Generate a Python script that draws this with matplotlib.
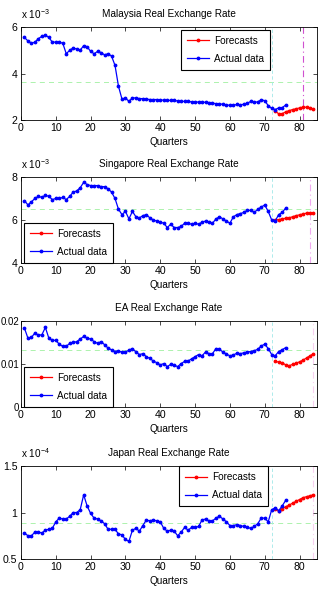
import numpy as np
import matplotlib
matplotlib.use('Agg')
import matplotlib.pyplot as plt

plt.rcParams['font.family'] = ['Liberation Sans', 'DejaVu Sans']
plt.rcParams['mathtext.fontset'] = 'custom'
plt.rcParams['mathtext.rm'] = 'Liberation Sans'
FS = 7.2      # titles, labels, legend
TICK_FS = 7.6 # tick labels

# quarters
actual_q = np.arange(1, 77)
forecast_q = np.arange(73, 85)

# Malaysia (x 10^-3)
malaysia_actual = [5.55, 5.4, 5.3, 5.35, 5.5, 5.6, 5.65, 5.55, 5.35, 5.35,
                   5.35, 5.3, 4.85, 5.0, 5.1, 5.05, 5.0, 5.2, 5.15, 4.95,
                   4.85, 4.95, 4.9, 4.8, 4.85, 4.75, 4.35, 3.45, 2.9, 2.95,
                   2.8, 2.95, 2.95, 2.92, 2.92, 2.9, 2.88, 2.88, 2.88, 2.87,
                   2.85, 2.85, 2.84, 2.84, 2.82, 2.8, 2.8, 2.8, 2.78, 2.78,
                   2.77, 2.77, 2.76, 2.75, 2.73, 2.7, 2.7, 2.67, 2.65, 2.63,
                   2.63, 2.67, 2.65, 2.68, 2.72, 2.8, 2.76, 2.78, 2.87, 2.83,
                   2.62, 2.5, 2.45, 2.52, 2.53, 2.64]
malaysia_forecast = [2.38, 2.27, 2.27, 2.35, 2.4, 2.45, 2.48, 2.52, 2.55, 2.55, 2.52, 2.47]

# Singapore (x 10^-3)
singapore_actual = [6.9, 6.7, 6.85, 7.0, 7.1, 7.05, 7.15, 7.1, 6.95, 7.0,
                    7.0, 7.05, 6.95, 7.1, 7.3, 7.35, 7.5, 7.75, 7.65, 7.6,
                    7.6, 7.6, 7.55, 7.55, 7.45, 7.3, 7.0, 6.5, 6.25, 6.4,
                    6.05, 6.4, 6.15, 6.1, 6.2, 6.25, 6.1, 6.0, 5.95, 5.9,
                    5.85, 5.65, 5.8, 5.65, 5.65, 5.7, 5.85, 5.85, 5.8, 5.85,
                    5.8, 5.9, 5.95, 5.9, 5.85, 6.05, 6.15, 6.05, 5.95, 5.85,
                    6.15, 6.25, 6.3, 6.35, 6.45, 6.45, 6.35, 6.5, 6.6, 6.7,
                    6.4, 6.0, 5.95, 6.25, 6.35, 6.55]
singapore_forecast = [6.0, 6.02, 6.05, 6.08, 6.1, 6.15, 6.2, 6.24, 6.28, 6.32, 6.33, 6.33]

# EA
ea_actual = [0.0183, 0.016, 0.0162, 0.0172, 0.0167, 0.0168, 0.0185, 0.016, 0.0155, 0.0155,
             0.0146, 0.0141, 0.0141, 0.0148, 0.015, 0.0152, 0.0158, 0.0164, 0.016, 0.0158,
             0.0152, 0.0148, 0.0152, 0.0145, 0.0137, 0.0133, 0.0129, 0.0131, 0.0127, 0.0128,
             0.0132, 0.0136, 0.0128, 0.0122, 0.0124, 0.0117, 0.0113, 0.0107, 0.0103, 0.0098,
             0.0101, 0.0094, 0.0099, 0.0097, 0.0094, 0.0101, 0.0106, 0.0107, 0.0112, 0.0117,
             0.0122, 0.0119, 0.0128, 0.0124, 0.0124, 0.0136, 0.0134, 0.0128, 0.0123, 0.0119,
             0.0121, 0.0125, 0.0124, 0.0126, 0.0128, 0.0129, 0.0131, 0.0134, 0.0142, 0.0146,
             0.0136, 0.0122, 0.0119, 0.0129, 0.0133, 0.0138]
ea_forecast = [0.0107, 0.0104, 0.0103, 0.0098, 0.0096, 0.0099, 0.0102, 0.0105, 0.0109, 0.0114, 0.0119, 0.0124]

# Japan (x 10^-4)
japan_actual = [0.78, 0.75, 0.75, 0.79, 0.79, 0.78, 0.81, 0.82, 0.83, 0.9,
                0.94, 0.93, 0.93, 0.96, 1.0, 1.0, 1.03, 1.19, 1.07, 0.99,
                0.94, 0.93, 0.91, 0.88, 0.82, 0.82, 0.82, 0.77, 0.76, 0.71,
                0.69, 0.81, 0.83, 0.8, 0.86, 0.92, 0.91, 0.92, 0.91, 0.9,
                0.83, 0.8, 0.81, 0.8, 0.75, 0.79, 0.84, 0.81, 0.84, 0.84,
                0.85, 0.92, 0.93, 0.91, 0.91, 0.94, 0.96, 0.93, 0.9, 0.86,
                0.86, 0.87, 0.86, 0.85, 0.84, 0.83, 0.85, 0.88, 0.94, 0.94,
                0.9, 1.03, 1.05, 1.02, 1.07, 1.13]
japan_forecast = [1.04, 1.02, 1.04, 1.06, 1.08, 1.1, 1.12, 1.14, 1.16, 1.17, 1.18, 1.19]

titles = ['Malaysia Real Exchange Rate', 'Singapore Real Exchange Rate',
          'EA Real Exchange Rate', 'Japan Real Exchange Rate']
actuals = [malaysia_actual, singapore_actual, ea_actual, japan_actual]
forecasts = [malaysia_forecast, singapore_forecast, ea_forecast, japan_forecast]
scale_text = [r'x 10$^{-3}$', r'x 10$^{-3}$', None, r'x 10$^{-4}$']
ylims = [(2, 6), (4, 8), (0, 0.02), (0.5, 1.5)]
yticks = [[2, 4, 6], [4, 6, 8], [0, 0.01, 0.02], [0.5, 1, 1.5]]
ytlabels = [['2', '4', '6'], ['4', '6', '8'], ['0', '0.01', '0.02'], ['0.5', '1', '1.5']]
mean_level = [3.63, 6.52, 0.0133, 0.888]
end_line = [81, 83, 83.9, 83.9]
end_color = ['#d050d0', '#f0a8f0', '#f8d0f0', '#f8d0f0']
vline_q = 72

# layout [left, bottom, width, height]
positions = [[0.0654, 0.800, 0.922, 0.155],
             [0.0654, 0.5617, 0.922, 0.1433],
             [0.0654, 0.3217, 0.922, 0.1433],
             [0.0654, 0.0683, 0.922, 0.155]]
legend_loc = ['upper right', 'lower left', 'lower left', 'upper right']
legend_anchor = [(0.841, 0.968), (0.01, 0.0), (0.01, 0.0), (0.834, 1.0)]

fig = plt.figure(figsize=(3.21, 6.0), dpi=100)
for i in range(4):
    ax = fig.add_axes(positions[i])
    ax.axhline(mean_level[i], color='#a0f0a0', ls=(0, (6, 5)), lw=0.6, zorder=1)
    ax.axvline(vline_q, color='#a0e8e8', ls=(0, (4, 3)), lw=0.6, zorder=1)
    ax.axvline(end_line[i], color=end_color[i], ls=(0, (6, 3, 1, 3)), lw=0.8, zorder=1)
    ax.plot(forecast_q, forecasts[i], '.-', color='#ff0000', lw=0.9, ms=3.5,
            label='Forecasts', zorder=3)
    ax.plot(actual_q, actuals[i], '.-', color='#0000ff', lw=0.9, ms=3.5,
            label='Actual data', zorder=4)
    ax.set_xlim(0, 85)
    ax.set_ylim(*ylims[i])
    ax.set_xticks(range(0, 90, 10))
    ax.set_yticks(yticks[i])
    ax.set_yticklabels(ytlabels[i])
    ax.tick_params(direction='in', top=True, right=True, labelsize=TICK_FS,
                   length=3, width=0.5, pad=2.5)
    if i == 2:
        # long labels, keep them inside the figure
        ax.tick_params(axis='y', labelsize=6.9, pad=1.2)
    for s in ax.spines.values():
        s.set_linewidth(0.6)
    ax.set_xlabel('Quarters', fontsize=FS, labelpad=2.5)
    ax.set_title(titles[i], fontsize=FS, pad=7)
    if scale_text[i]:
        ax.annotate(scale_text[i], xy=(0, 1), xycoords='axes fraction',
                    xytext=(0, 4.5), textcoords='offset points',
                    fontsize=FS, ha='left', va='bottom')
    leg = ax.legend(loc=legend_loc[i], bbox_to_anchor=legend_anchor[i],
                    fontsize=FS, fancybox=False, edgecolor='black',
                    framealpha=1, borderaxespad=0, handlelength=2.2,
                    borderpad=0.6, labelspacing=0.8, handletextpad=0.5)
    leg.get_frame().set_linewidth(0.8)

fig.savefig('out.png', dpi=100)
